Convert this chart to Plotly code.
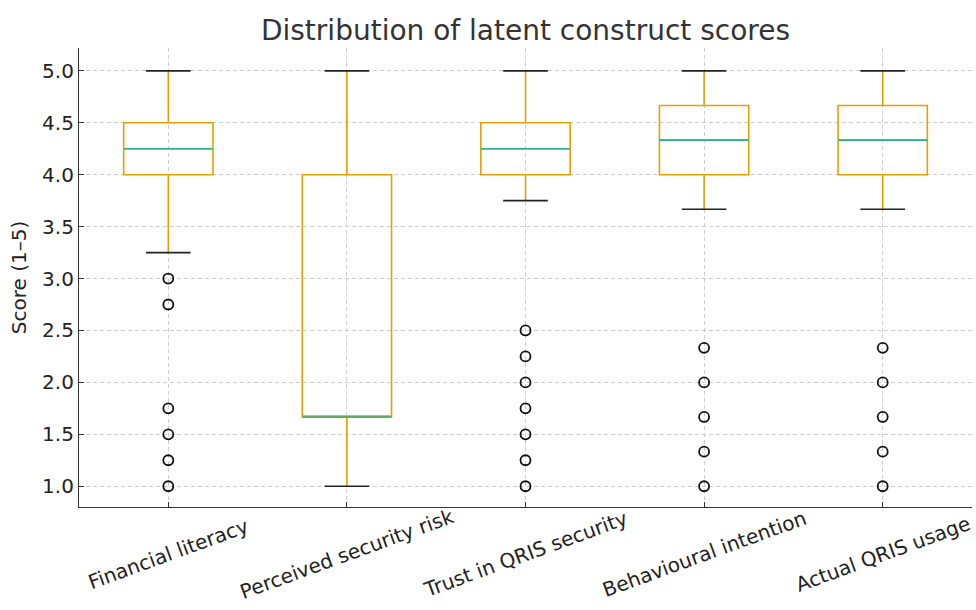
import plotly.graph_objects as go

# Summary statistics of each latent construct (Likert 1-5 scale)
constructs = ["Financial literacy", "Perceived security risk", "Trust in QRIS security",
              "Behavioural intention", "Actual QRIS usage"]
lower_whisker = [3.25, 1.0, 3.75, 3.667, 3.667]
q1 = [4.0, 1.667, 4.0, 4.0, 4.0]
median = [4.25, 1.667, 4.25, 4.333, 4.333]
q3 = [4.5, 4.0, 4.5, 4.667, 4.667]
upper_whisker = [5.0, 5.0, 5.0, 5.0, 5.0]
outliers = [
    [3.0, 2.75, 1.75, 1.5, 1.25, 1.0],
    [],
    [2.5, 2.25, 2.0, 1.75, 1.5, 1.25, 1.0],
    [2.333, 2.0, 1.667, 1.333, 1.0],
    [2.333, 2.0, 1.667, 1.333, 1.0],
]
y_ticks = [1.0, 1.5, 2.0, 2.5, 3.0, 3.5, 4.0, 4.5, 5.0]

ORANGE = "#E69F00"
GREEN = "#32AE88"
FONT = "DejaVu Sans"

pos = list(range(len(constructs)))
box_w = 0.5
cap_half = box_w / 4

fig = go.Figure()

fig.add_trace(go.Box(
    x=pos, q1=q1, median=median, q3=q3,
    lowerfence=lower_whisker, upperfence=upper_whisker,
    width=box_w, whiskerwidth=0,
    line=dict(color=ORANGE, width=1.6),
    fillcolor="rgba(0,0,0,0)", boxpoints=False,
    showlegend=False, hoverinfo="skip",
))

# Medians in green, caps in black
med_x, med_y, cap_x, cap_y = [], [], [], []
for i in pos:
    med_x += [i - box_w / 2, i + box_w / 2, None]
    med_y += [median[i], median[i], None]
    for v in (lower_whisker[i], upper_whisker[i]):
        cap_x += [i - cap_half, i + cap_half, None]
        cap_y += [v, v, None]

fig.add_trace(go.Scatter(x=med_x, y=med_y, mode="lines",
                         line=dict(color=GREEN, width=1.6),
                         showlegend=False, hoverinfo="skip"))
fig.add_trace(go.Scatter(x=cap_x, y=cap_y, mode="lines",
                         line=dict(color="#222222", width=1.6),
                         showlegend=False, hoverinfo="skip"))

# Outlying responses
ox, oy = [], []
for i in pos:
    ox += [i] * len(outliers[i])
    oy += outliers[i]
fig.add_trace(go.Scatter(x=ox, y=oy, mode="markers",
                         marker=dict(symbol="circle-open", size=10,
                                     line=dict(color="#111111", width=1.8),
                                     color="#111111"),
                         showlegend=False, hoverinfo="skip"))

# Rotated category labels centred under each tick
for i, name in enumerate(constructs):
    fig.add_annotation(x=i, y=0, xref="x", yref="paper", text=name,
                       textangle=-20, showarrow=False, yshift=-47,
                       xanchor="center", yanchor="middle",
                       font=dict(family=FONT, size=20, color="#222222"))

GRID_DASH = "4px,3px"
fig.update_layout(
    width=976, height=610,
    margin=dict(l=79, r=4, t=48, b=103),
    plot_bgcolor="white", paper_bgcolor="white",
    font=dict(family=FONT, size=20, color="#222222"),
    title=dict(text="Distribution of latent construct scores",
               x=(79 + 972) / 2 / 976, xanchor="center",
               y=1 - 30 / 610, yanchor="middle",
               font=dict(family=FONT, size=28, color="#333333")),
)
fig.update_xaxes(
    range=[-0.5, 4.5], tickvals=pos, ticktext=[""] * len(pos),
    showgrid=True, gridcolor="#cccccc", griddash=GRID_DASH, gridwidth=1,
    showline=True, linecolor="#333333", linewidth=1.2,
    ticks="inside", ticklen=5, tickcolor="#333333", zeroline=False,
)
fig.update_yaxes(
    range=[0.8, 5.22], tickvals=y_ticks, ticktext=[f"{v:.1f}" for v in y_ticks],
    showgrid=True, gridcolor="#cccccc", griddash=GRID_DASH, gridwidth=1,
    showline=True, linecolor="#333333", linewidth=1.2,
    ticks="inside", ticklen=5, tickcolor="#333333", zeroline=False,
    tickfont=dict(family=FONT, size=20, color="#222222"),
    title=dict(text="Score (1–5)", font=dict(family=FONT, size=20), standoff=10),
)

fig.write_html("out.html")
